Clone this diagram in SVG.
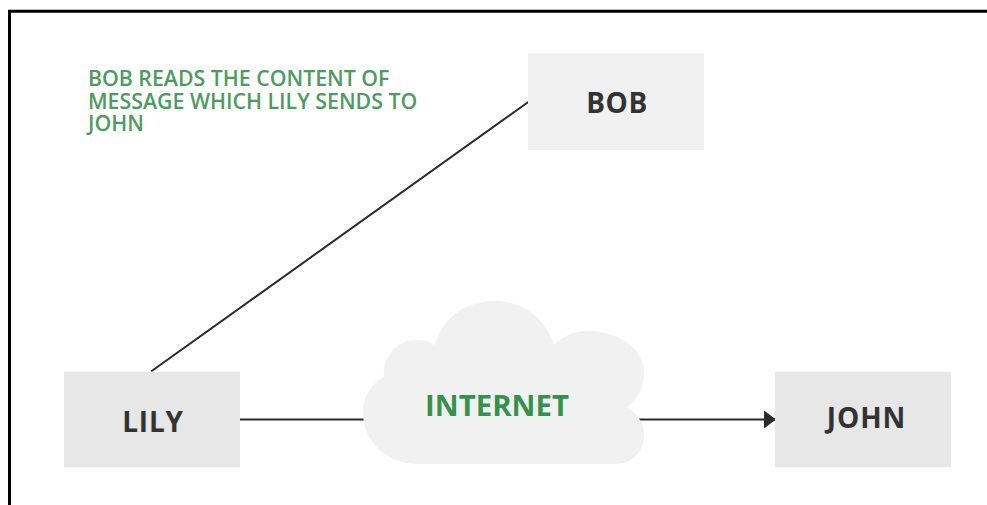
<svg xmlns="http://www.w3.org/2000/svg" width="987" height="505" viewBox="0 0 987 505">
<defs>
<style>
.lbl{font-family:"Open Sans","Noto Sans",sans-serif;font-weight:700;fill:#333;font-size:28px;text-anchor:middle}
.grn{font-family:"Open Sans","Noto Sans",sans-serif;fill:#4c9c60;font-size:21.300px;font-weight:600}
.ln{stroke:#2b2b2b;stroke-width:2;fill:none}
</style>
<marker id="arr" markerUnits="userSpaceOnUse" markerWidth="12" markerHeight="18" refX="12" refY="9" orient="auto"><path d="M0 0L12 9L0 18Z" fill="#2b2b2b"/></marker>
</defs>
<rect width="987" height="505" fill="#fff"/>
<path d="M9.500 505V11.300H987" fill="none" stroke="#000" stroke-width="3"/>
<g id="connectors">
<path class="ln" d="M151 371.500L529 101.500"/>
<path class="ln" d="M240 419.500H364"/>
<path class="ln" d="M639 419.500H776" marker-end="url(#arr)"/>
</g>
<g id="node-note"><text class="grn"><tspan x="88" y="86">BOB READS THE CONTENT OF</tspan><tspan x="88" y="108.500">MESSAGE WHICH LILY SENDS TO</tspan><tspan x="88" y="131">JOHN</tspan></text></g>
<g id="node-bob"><rect x="528" y="53.500" width="176" height="96.500" fill="#f1f1f1"/><text class="lbl" x="617" y="112.500" letter-spacing=".5">BOB</text></g>
<g id="node-lily"><rect x="64" y="371.700" width="176" height="95.500" fill="#e7e7e7"/><text class="lbl" x="153" y="432" letter-spacing=".8">LILY</text></g>
<g id="node-john"><rect x="775" y="371.700" width="176" height="95.500" fill="#e7e7e7"/><text class="lbl" x="866.500" y="427.500" letter-spacing="1">JOHN</text></g>
<g id="node-internet"><path d="M418 464C388 464 363 443 363 412C363 397 372 383 384 377C382 358 396 340 416 340C424 340 430 342 435 345C441 320 464 301 495 301C523 301 546 319 554 345C564 335 575 331 588 331C620 331 644 350 644 372C644 392 634 402 627 407C636 413 644 422 644 434C644 452 632 464 616 464Z" fill="#f1f1f1"/><text x="497" y="416" font-family="'Open Sans','Noto Sans',sans-serif" font-weight="700" font-size="29.400" fill="#34924a" text-anchor="middle">INTERNET</text></g>
</svg>
